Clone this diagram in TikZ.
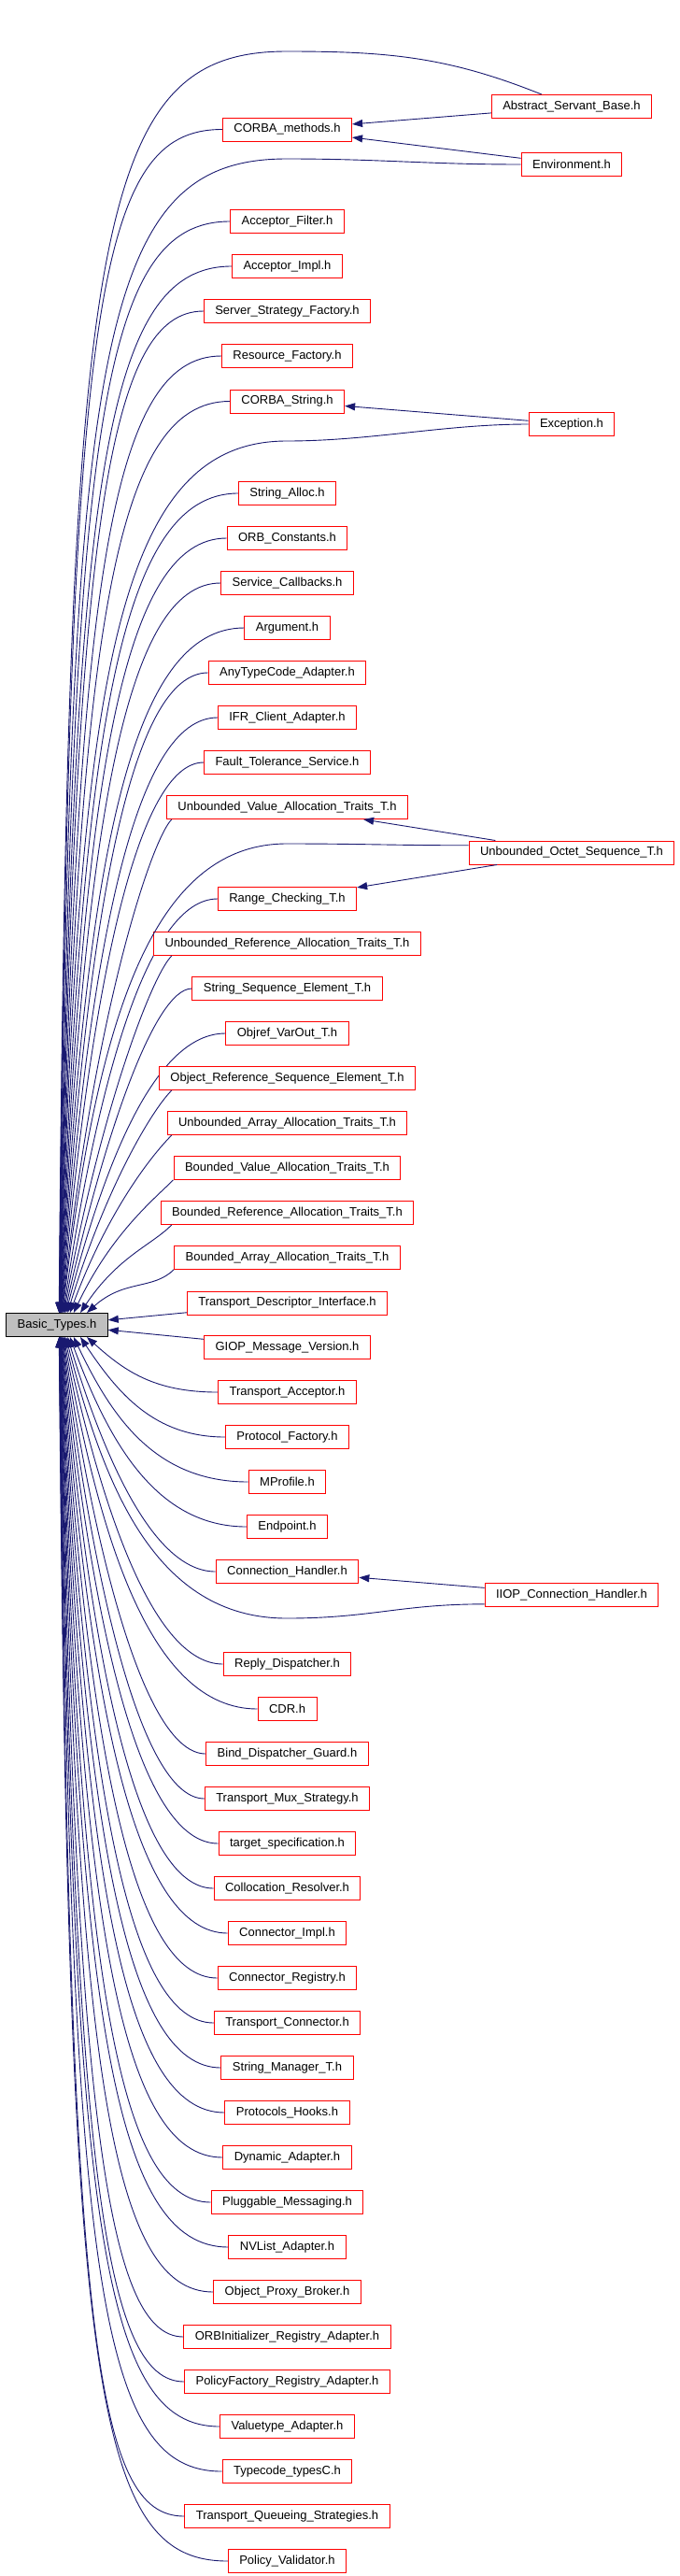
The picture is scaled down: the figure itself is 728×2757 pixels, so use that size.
\documentclass[tikz,border=0pt]{standalone}
\usepackage{fontspec}
\setmainfont{Liberation Sans}
\usetikzlibrary{arrows.meta}
\definecolor{edgeblue}{HTML}{191970}
\definecolor{rootgray}{HTML}{BFBFBF}

\begin{document}
\begin{tikzpicture}[x=1pt, y=-1pt,
  filebox/.style={rectangle, draw=red, fill=white, line width=1pt, minimum height=25pt, inner xsep=12pt, inner ysep=0pt, font=\fontsize{13}{15}\selectfont},
  rootbox/.style={filebox, draw=black, fill=rootgray},
  dep/.style={draw=edgeblue, line width=0.9pt, -{Triangle[length=11pt, width=8pt]}}]
  \useasboundingbox[fill=white] (0,0) rectangle (728,2757);
  \node[rootbox] (bt) at (61,1418) {Basic\_Types.h};
  % files including Basic_Types.h directly (anchor 0 = straight edge)
  \foreach \nm/\yy/\an/\lbl in {
    cm/138.5/180/CORBA\_methods.h, af/237/180/Acceptor\_Filter.h, ai/285/180/Acceptor\_Impl.h,
    ssf/333/180/Server\_Strategy\_Factory.h, rf/381/180/Resource\_Factory.h, cs/429.5/180/CORBA\_String.h,
    sa/528/180/String\_Alloc.h, oc/576/180/ORB\_Constants.h, sc/624/180/Service\_Callbacks.h,
    arg/672/180/Argument.h, atc/720/180/AnyTypeCode\_Adapter.h, ifr/768/180/IFR\_Client\_Adapter.h,
    fts/816/180/Fault\_Tolerance\_Service.h, uv/864/-174/Unbounded\_Value\_Allocation\_Traits\_T.h,
    rc/962/180/Range\_Checking\_T.h, ur/1010/-174/Unbounded\_Reference\_Allocation\_Traits\_T.h,
    sse/1058/180/String\_Sequence\_Element\_T.h, ov/1106/180/Objref\_VarOut\_T.h,
    orse/1154/-174/Object\_Reference\_Sequence\_Element\_T.h, ua/1202/-174/Unbounded\_Array\_Allocation\_Traits\_T.h,
    bv/1250/-174/Bounded\_Value\_Allocation\_Traits\_T.h, br/1298/-174/Bounded\_Reference\_Allocation\_Traits\_T.h,
    ba/1346/-174/Bounded\_Array\_Allocation\_Traits\_T.h, tdi/1394.5/0/Transport\_Descriptor\_Interface.h,
    giop/1442/0/GIOP\_Message\_Version.h, ta/1490/180/Transport\_Acceptor.h, pf/1538/180/Protocol\_Factory.h,
    mp/1586/180/MProfile.h, ep/1634/180/Endpoint.h, ch/1682/180/Connection\_Handler.h,
    rd/1781/180/Reply\_Dispatcher.h, cdr/1829/180/CDR.h, bdg/1877/180/Bind\_Dispatcher\_Guard.h,
    tms/1925/180/Transport\_Mux\_Strategy.h, ts/1973/180/target\_specification.h,
    cr/2021/180/Collocation\_Resolver.h, ci/2069/180/Connector\_Impl.h, creg/2117/180/Connector\_Registry.h,
    tc/2165/180/Transport\_Connector.h, sm/2213/180/String\_Manager\_T.h, ph/2261/180/Protocols\_Hooks.h,
    da/2309/180/Dynamic\_Adapter.h, pm/2357/180/Pluggable\_Messaging.h, nvl/2405/180/NVList\_Adapter.h,
    opb/2453/180/Object\_Proxy\_Broker.h, ori/2501/180/ORBInitializer\_Registry\_Adapter.h,
    pfr/2549/180/PolicyFactory\_Registry\_Adapter.h, va/2597/180/Valuetype\_Adapter.h,
    tt/2645/180/Typecode\_typesC.h, tqs/2693/180/Transport\_Queueing\_Strategies.h, pv/2741/180/Policy\_Validator.h}{
    \node[filebox] (\nm) at (307.5,\yy) {\lbl};
    \pgfmathsetmacro\dd{\yy-1418}
    \pgfmathsetmacro\ff{min(1,max(0,(abs(\dd)-350)/950))}
    \pgfmathsetmacro\cn{165-65*\ff}
    \pgfmathsetmacro\pp{40-30*\ff}
    \pgfmathsetmacro\kk{(0.5+0.35*\ff)*\dd}
    \pgfmathsetmacro\sh{min(32,3000/abs(\dd))}
    \pgfmathtruncatemacro\ra{\dd<0 ? 90 : -90}
    \ifnum\an=180
      \draw[dep] (\nm.west) .. controls (\cn,\yy) and +(\pp,\kk) .. ([xshift=\sh pt]bt.\ra);
    \else\ifnum\an=0
      \draw[dep] (\nm) -- (bt);
    \else
      \draw[dep] (\nm.\an) .. controls +(-22,22) and +(\pp,\kk) .. ([xshift=\sh pt]bt.\ra);
    \fi\fi
  }
  % files reaching Basic_Types.h also through another header
  \node[filebox] (asb) at (612,114) {Abstract\_Servant\_Base.h};
  \node[filebox] (env) at (612,176) {Environment.h};
  \node[filebox] (exc) at (612,454) {Exception.h};
  \node[filebox] (uos) at (612,912.5) {Unbounded\_Octet\_Sequence\_T.h};
  \node[filebox] (iiop) at (612,1707) {IIOP\_Connection\_Handler.h};
  \coordinate (vasb) at (307,55);
  \coordinate (venv) at (307,170);
  \coordinate (vexc) at (307,472);
  \coordinate (vuos) at (307,903);
  \coordinate (viiop) at (307,1732);
  \draw[dep] (asb) -- (cm);
  \draw[dep] (env) -- (cm);
  \draw[dep] (exc) -- (cs);
  \draw[dep] (uos) -- (uv);
  \draw[dep] (uos) -- (rc);
  \draw[dep] (iiop) -- (ch);
  \draw[dep] (asb.158) .. controls +(-100,-40) and +(110,0) .. (vasb) .. controls +(-207,0) and +(10,-1159) .. ([xshift=2.2pt]bt.north);
  \draw[dep] (env.west) .. controls +(-100,0) and +(100,0) .. (venv) .. controls +(-203,0) and +(12,-1037) .. ([xshift=2.4pt]bt.north);
  \draw[dep] (exc.west) .. controls +(-90,0) and +(90,0) .. (vexc) .. controls +(-183,0) and +(21,-681) .. ([xshift=3.2pt]bt.north);
  \draw[dep] (uos.176) .. controls +(-80,0) and +(80,0) .. (vuos) .. controls +(-153,0) and +(35,-289) .. ([xshift=5.8pt]bt.north);
  \draw[dep] (iiop.-174) .. controls +(-90,0) and +(90,0) .. (viiop) .. controls +(-142,0) and +(40,157) .. ([xshift=9.6pt]bt.south);
\end{tikzpicture}
\end{document}
